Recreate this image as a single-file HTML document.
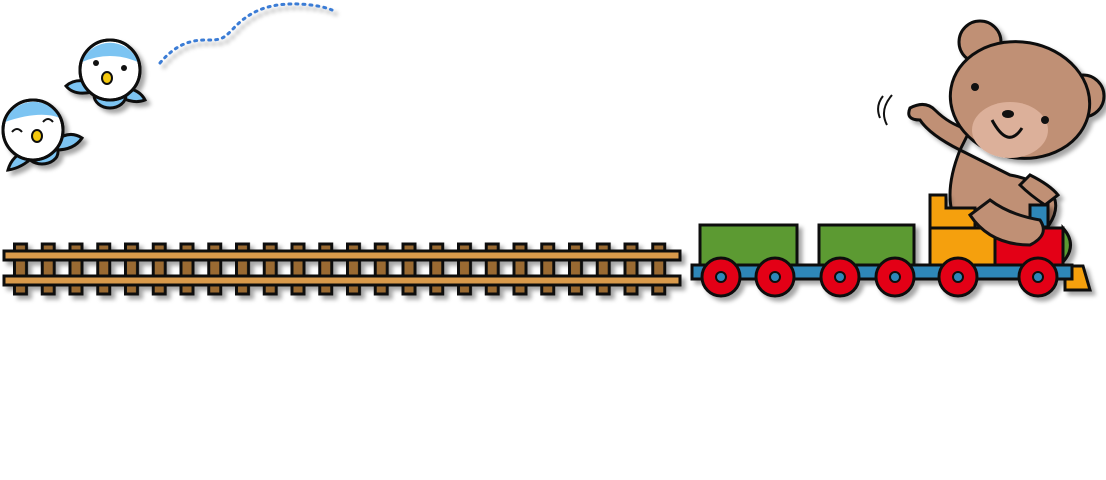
<!DOCTYPE html>
<html><head><meta charset="utf-8"><style>html,body{margin:0;padding:0;background:#fff;width:1106px;height:480px;overflow:hidden}</style></head><body>
<svg width="1106" height="480" viewBox="0 0 1106 480" xmlns="http://www.w3.org/2000/svg">
<defs>
<filter id="sh" x="-10%" y="-10%" width="130%" height="130%"><feDropShadow dx="4" dy="4" stdDeviation="2" flood-color="#000" flood-opacity="0.35"/></filter>
<pattern id="ties" x="13" y="0" width="27.75" height="480" patternUnits="userSpaceOnUse"><rect x="1.5" y="244" width="12" height="50" fill="#9a6b31" stroke="#111" stroke-width="3"/></pattern>
</defs>
<g filter="url(#sh)">
<rect x="13" y="242" width="660" height="54" fill="url(#ties)"/>
<rect x="4" y="251" width="676" height="9" fill="#d99a4b" stroke="#111" stroke-width="3"/>
<rect x="4" y="276" width="676" height="9" fill="#d99a4b" stroke="#111" stroke-width="3"/>
</g>
<path d="M160,63 C175,45 190,40 205,40 C220,40 222,40 232,30 C250,10 270,3 300,4 C315,5 325,7 332,10" fill="none" stroke="#3a7bd5" stroke-width="3" stroke-dasharray="2 5" stroke-linecap="round" filter="url(#sh)"/>
<g filter="url(#sh)" stroke="#111" stroke-width="3">
<path d="M90,82 Q75,78 66,86 Q74,96 92,92 Z" fill="#7cc4f2"/>
<path d="M126,88 Q140,90 145,100 Q135,104 122,98 Z" fill="#7cc4f2"/>
<ellipse cx="110" cy="95" rx="16" ry="13" fill="#7cc4f2"/>
<circle cx="110" cy="70" r="30" fill="#fff"/>
<path d="M82,62 A30,30 0 0 1 138,62 Q110,50 82,62 Z" fill="#7cc4f2" stroke="none"/>
<circle cx="110" cy="70" r="30" fill="none"/>
<ellipse cx="107" cy="78" rx="5" ry="6" fill="#f5c90a" stroke-width="2"/>
<path d="M28,150 Q12,155 8,170 Q22,168 34,156 Z" fill="#7cc4f2"/>
<path d="M56,140 Q70,130 82,138 Q74,150 56,150 Z" fill="#7cc4f2"/>
<ellipse cx="42" cy="152" rx="16" ry="12" fill="#7cc4f2"/>
<circle cx="33" cy="130" r="30" fill="#fff"/>
<path d="M5,122 A30,30 0 0 1 60,118 Q40,110 5,122 Z" fill="#7cc4f2" stroke="none"/>
<circle cx="33" cy="130" r="30" fill="none"/>
<ellipse cx="37" cy="136" rx="5" ry="6" fill="#f5c90a" stroke-width="2"/>
</g>
<g fill="#111"><circle cx="96" cy="63" r="3"/><circle cx="124" cy="68" r="3"/></g>
<g fill="none" stroke="#111" stroke-width="2"><path d="M12,132 q5,-6 10,0"/><path d="M43,122 q5,-6 10,0"/></g>
<g filter="url(#sh)" stroke="#111" stroke-width="3">
<circle cx="980" cy="42" r="21" fill="#c09075"/>
<circle cx="1083" cy="96" r="21" fill="#c09075"/>
<path d="M960,150 Q940,200 960,230 Q990,250 1030,245 Q1060,220 1055,200 Q1040,180 1010,175 Z" fill="#c09075"/>
<path d="M1030,175 Q1050,185 1058,195 L1045,205 Q1030,195 1020,185 Z" fill="#c09075"/>
<path d="M960,150 Q930,135 920,120 Q905,120 910,108 Q925,100 935,110 Q950,125 970,130 Z" fill="#c09075"/>
<ellipse cx="1020" cy="100" rx="70" ry="58" transform="rotate(10 1020 100)" fill="#c09075"/>
<ellipse cx="1010" cy="130" rx="38" ry="28" fill="#dcb09a" stroke="none"/>
<path d="M992,120 Q1008,150 1022,128" fill="none"/>
</g>
<g fill="#111"><circle cx="975" cy="87" r="4"/><circle cx="1045" cy="120" r="4"/><ellipse cx="1008" cy="114" rx="6" ry="4"/></g>
<path d="M887,125 q-8,-15 5,-30 M880,118 q-5,-12 3,-22" stroke="#111" stroke-width="2" fill="none"/>
<g filter="url(#sh)" stroke="#111" stroke-width="3">
<rect x="700" y="225" width="97" height="42" fill="#5b9a32"/>
<rect x="819" y="225" width="95" height="42" fill="#5b9a32"/>
<path d="M930,195 L946,195 L946,208 L975,208 L975,235 L930,235 Z" fill="#f5a00c"/>
<path d="M930,228 L1000,228 L1000,266 L930,266 Z" fill="#f5a00c"/>
<rect x="1030" y="205" width="18" height="22" fill="#2f87b8"/>
<path d="M1063,228 Q1078,245 1063,262 Z" fill="#5b9a32"/>
<path d="M995,228 L1063,228 L1063,266 L995,266 Z" fill="#e30613"/>
<path d="M1065,266 L1083,266 L1090,290 L1065,290 Z" fill="#f5a00c"/>
<rect x="692" y="265" width="380" height="14" fill="#2f87b8"/>
<g fill="#e30613">
<circle cx="721" cy="277" r="19"/><circle cx="775" cy="277" r="19"/>
<circle cx="840" cy="277" r="19"/><circle cx="895" cy="277" r="19"/>
<circle cx="958" cy="277" r="19"/><circle cx="1038" cy="277" r="19"/>
</g>
<g fill="#2f87b8" stroke-width="2">
<circle cx="721" cy="277" r="5"/><circle cx="775" cy="277" r="5"/>
<circle cx="840" cy="277" r="5"/><circle cx="895" cy="277" r="5"/>
<circle cx="958" cy="277" r="5"/><circle cx="1038" cy="277" r="5"/>
</g>
</g>
<path d="M970,215 Q990,245 1030,245 Q1050,235 1040,220 Q1010,215 990,200 Z" fill="#c09075" stroke="#111" stroke-width="3"/>
</svg>
</body></html>
